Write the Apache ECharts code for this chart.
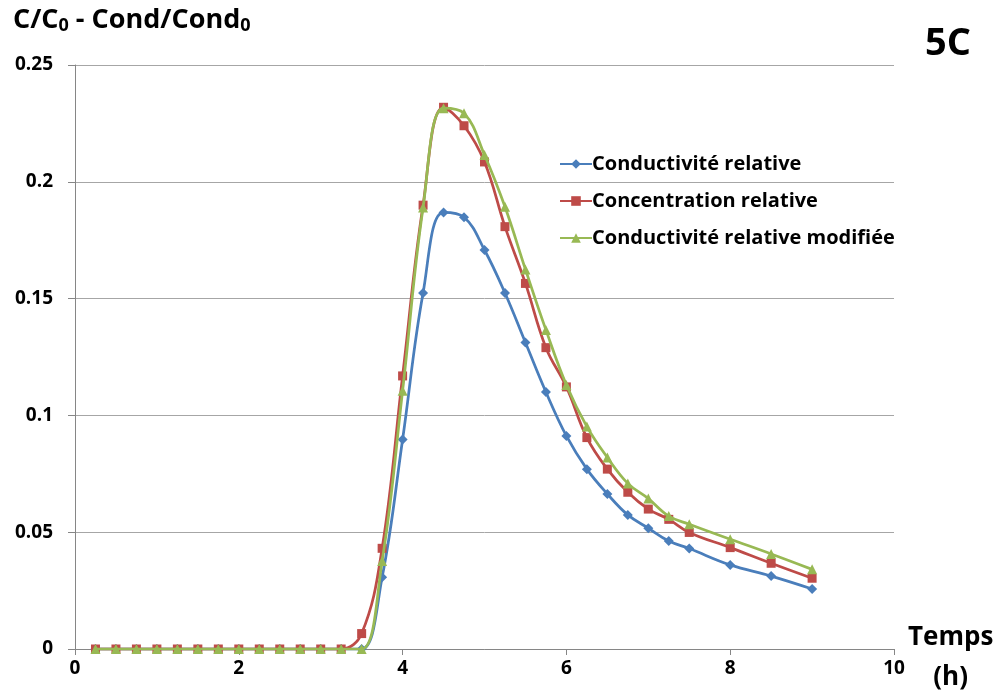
<!DOCTYPE html>
<html>
<head>
<meta charset="utf-8">
<script src="https://cdn.jsdelivr.net/npm/echarts@6/dist/echarts.min.js"></script>
<style>html,body{margin:0;padding:0;background:#fff}#c{width:1002px;height:694px}</style>
</head>
<body>
<div id="c"></div>
<script>
var times = [0.25,0.5,0.75,1,1.25,1.5,1.75,2,2.25,2.5,2.75,3,3.25,3.5,3.75,4,4.25,4.5,4.75,5,5.25,5.5,5.75,6,6.25,6.5,6.75,7,7.25,7.5,8,8.5,9];
var condRel = [0,0,0,0,0,0,0,0,0,0,0,0,0,0,0.0307,0.0897,0.1524,0.1869,0.1848,0.1708,0.1524,0.1312,0.1100,0.0912,0.0770,0.0664,0.0574,0.0517,0.0462,0.0430,0.0360,0.0312,0.0257];
var concRel = [0,0,0,0,0,0,0,0,0,0,0,0,0,0.0066,0.0431,0.1169,0.1900,0.2319,0.2240,0.2085,0.1808,0.1565,0.1290,0.1122,0.0905,0.0770,0.0671,0.0599,0.0555,0.0499,0.0434,0.0367,0.0303];
var condMod = [0,0,0,0,0,0,0,0,0,0,0,0,0,0,0.0377,0.1106,0.1890,0.2315,0.2293,0.2115,0.1893,0.1625,0.1366,0.1130,0.0952,0.0820,0.0709,0.0644,0.0569,0.0534,0.0470,0.0407,0.0341];
var seriesNames = ['Conductivité relative','Concentration relative','Conductivité relative modifiée'];
var xTicks = [0,2,4,6,8,10];
var yTicks = [0,0.05,0.1,0.15,0.2,0.25];

function pairs(v){ return times.map(function(t,i){ return [t, v[i]]; }); }
var FONT = '"Open Sans", "Liberation Sans", sans-serif';
var chart = echarts.init(document.getElementById('c'));
var lbl = {color:'#000', fontWeight:'bold', fontSize:19, fontFamily:FONT};
chart.setOption({
  animation:false,
  backgroundColor:'#fff',
  grid:{left:75, right:108, top:65, bottom:45, containLabel:false},
  title:[{
    text:'C/C{s|0} - Cond/Cond{s|0}', left:8, top:0,
    textStyle:{fontSize:27, fontWeight:'bold', color:'#000', fontFamily:FONT,
      rich:{s:{fontSize:18, fontWeight:'bold', color:'#000', fontFamily:FONT, verticalAlign:'bottom', padding:[12,0,0,0]}}}
  },{
    text:'5C', left:920, top:20,
    textStyle:{fontSize:38, fontWeight:'bold', color:'#000', fontFamily:FONT}
  }],
  graphic:[{
    type:'text', left:908, top:618,
    style:{text:'Temps\n(h)', fill:'#000', font:'bold 26px ' + FONT, align:'center', lineHeight:40, textAlign:'center'}
  }],
  legend:{
    orient:'vertical', left:554, top:147, itemGap:13, itemWidth:32, itemHeight:12,
    textStyle:{color:'#000', fontWeight:'bold', fontSize:20, lineHeight:24, fontFamily:FONT, padding:[0,0,0,-5]},
    data:seriesNames
  },
  xAxis:{
    type:'value', min:0, max:10, interval:2,
    axisLine:{lineStyle:{color:'#868686', width:1}},
    axisTick:{show:true, inside:false, length:6, lineStyle:{color:'#868686'}},
    axisLabel:Object.assign({margin:10, formatter:function(v){return xTicks.indexOf(v)>=0? String(v):'';}}, lbl),
    splitLine:{show:false}
  },
  yAxis:{
    type:'value', min:0, max:0.25, interval:0.05,
    axisLine:{show:true, lineStyle:{color:'#868686', width:1}},
    axisTick:{show:true, inside:false, length:7, lineStyle:{color:'#868686'}},
    axisLabel:Object.assign({margin:22, formatter:function(v){ var r=Math.round(v*100)/100; return yTicks.indexOf(r)>=0? String(r):''; }}, lbl),
    splitLine:{show:true, lineStyle:{color:'#A6A6A6', width:1}}
  },
  series:[
    {name:seriesNames[0], type:'line', smooth:0.4, data:pairs(condRel), symbol:'diamond', symbolSize:10,
      lineStyle:{color:'#4A7EBB', width:2.75}, itemStyle:{color:'#4A7EBB'}, z:2},
    {name:seriesNames[1], type:'line', smooth:0.4, data:pairs(concRel), symbol:'rect', symbolSize:9,
      lineStyle:{color:'#BE4B48', width:2.75}, itemStyle:{color:'#BE4B48'}, z:3},
    {name:seriesNames[2], type:'line', smooth:0.4, data:pairs(condMod), symbol:'triangle', symbolSize:10,
      lineStyle:{color:'#98B954', width:2.75}, itemStyle:{color:'#98B954'}, z:4}
  ]
});
</script>
</body>
</html>
